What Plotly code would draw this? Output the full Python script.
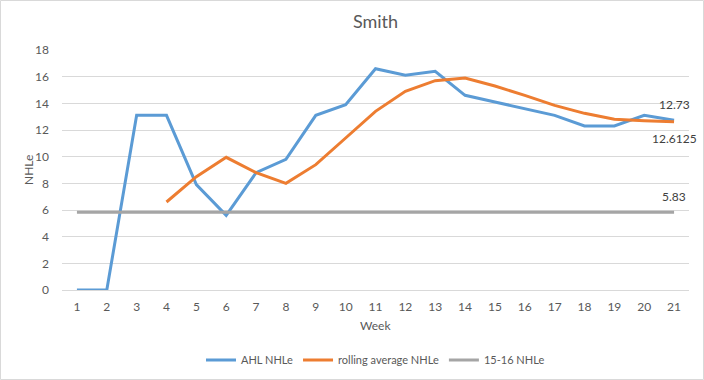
import plotly.graph_objects as go

weeks = list(range(1, 22))
ahl_nhle = [0, 0, 13.1, 13.1, 7.9, 5.6, 8.8, 9.8, 13.1, 13.9, 16.6, 16.1, 16.4,
            14.6, 14.1, 13.6, 13.1, 12.3, 12.3, 13.1, 12.73]
rolling_weeks = list(range(4, 22))
rolling_nhle = [6.6, 8.5, 9.95, 8.8, 8.0, 9.4, 11.4, 13.4, 14.9, 15.7, 15.9,
                15.3, 14.6, 13.85, 13.25, 12.8, 12.7, 12.6125]
prev_nhle = [5.83] * 21
y_ticks = list(range(0, 19, 2))

W, H = 704, 380
L, R, T, B = 62, 15, 50, 90
pw, ph = W - L - R, H - T - B

FONT = "Lato"
TXT = "#595959"

fig = go.Figure()
fig.add_trace(go.Scatter(x=weeks, y=ahl_nhle, mode="lines", name="AHL NHLe",
                         line=dict(color="#5B9BD5", width=3)))
fig.add_trace(go.Scatter(x=rolling_weeks, y=rolling_nhle, mode="lines",
                         name="rolling average NHLe",
                         line=dict(color="#ED7D31", width=3)))
fig.add_trace(go.Scatter(x=weeks, y=prev_nhle, mode="lines", name="15-16 NHLe",
                         line=dict(color="#A5A5A5", width=3)))

anns = [
    dict(x=weeks[-1], y=ahl_nhle[-1], text=str(ahl_nhle[-1]), yshift=16),
    dict(x=rolling_weeks[-1], y=rolling_nhle[-1], text=str(rolling_nhle[-1]), yshift=-17),
    dict(x=weeks[-1], y=prev_nhle[-1], text=str(prev_nhle[-1]), yshift=16),
]
annotations = [dict(a, xref="x", yref="y", showarrow=False, xanchor="center",
                    yanchor="middle", xshift=0,
                    font=dict(family=FONT, size=12, color="#404040")) for a in anns]
annotations.append(dict(x=0.5, y=(T + ph - 325) / ph, xref="paper", yref="paper",
                        text="Week", showarrow=False, xanchor="center", yanchor="middle",
                        font=dict(family=FONT, size=12, color=TXT)))
annotations.append(dict(x=(28 - L) / pw, y=0.5, xref="paper", yref="paper",
                        text="NHLe", showarrow=False, textangle=-90,
                        xanchor="center", yanchor="middle",
                        font=dict(family=FONT, size=12, color=TXT)))

fig.update_layout(
    width=W, height=H,
    margin=dict(l=L, r=R, t=T, b=B, autoexpand=False),
    paper_bgcolor="white", plot_bgcolor="white",
    title=dict(text="Smith", x=0.5, xanchor="center", xref="paper",
               yref="container", y=1 - 22 / H, yanchor="middle",
               font=dict(family=FONT, size=18, color=TXT)),
    showlegend=True,
    legend=dict(orientation="h", x=0.5, xanchor="center", y=(T + ph - 360) / ph,
                yanchor="middle", font=dict(family=FONT, size=11, color=TXT),
                bgcolor="rgba(0,0,0,0)"),
    annotations=annotations,
    xaxis=dict(range=[0.5, 21.5], tickmode="array", tickvals=weeks,
               ticktext=[str(w) for w in weeks], showgrid=False, zeroline=False,
               showline=True, linecolor="#D9D9D9", linewidth=1, ticks="",
               ticklabelstandoff=6, automargin=False,
               tickfont=dict(family=FONT, size=12, color=TXT)),
    yaxis=dict(range=[0, 18], tickmode="array", tickvals=y_ticks, showgrid=True,
               gridcolor="#D9D9D9", gridwidth=1, zeroline=False, showline=False,
               ticks="", ticklabelstandoff=12, automargin=False,
               tickfont=dict(family=FONT, size=12, color=TXT)),
    shapes=[dict(type="rect", xref="paper", yref="paper",
                 x0=(0.5 - L) / pw, x1=(W - L - 0.5) / pw,
                 y0=-(B - 0.5) / ph, y1=(H - B - 0.5) / ph,
                 line=dict(color="#D9D9D9", width=1), layer="below")],
)

fig.write_html("out.html", config={"displayModeBar": False},
               post_script="document.body.style.margin='0';document.body.style.overflow='hidden';")
